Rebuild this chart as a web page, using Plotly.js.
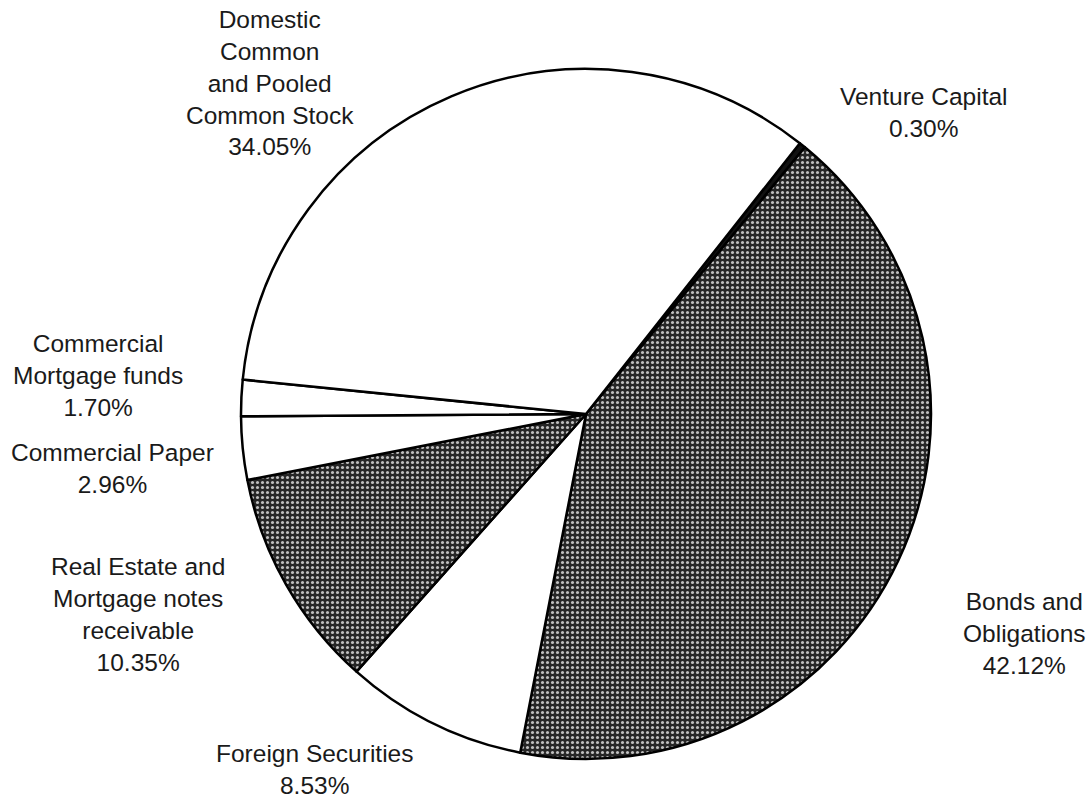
<!DOCTYPE html>
<html>
<head>
<meta charset="utf-8">
<script src="https://cdn.plot.ly/plotly-3.0.1.min.js"></script>
<style>html,body{margin:0;padding:0;background:#fff;}#chart{width:1089px;height:800px;}</style>
</head>
<body>
<div id="chart"></div>
<script>
// Data (clockwise order starting from Venture Capital)
const categories = [
  "Venture Capital",
  "Bonds and Obligations",
  "Foreign Securities",
  "Real Estate and Mortgage notes receivable",
  "Commercial Paper",
  "Commercial Mortgage funds",
  "Domestic Common and Pooled Common Stock"
];
const labelLines = [
  ["Venture Capital"],
  ["Bonds and", "Obligations"],
  ["Foreign Securities"],
  ["Real Estate and", "Mortgage notes", "receivable"],
  ["Commercial Paper"],
  ["Commercial", "Mortgage funds"],
  ["Domestic", "Common", "and Pooled", "Common Stock"]
];
const percents = [0.30, 42.12, 8.53, 10.35, 2.96, 1.70, 34.05];

// Styling (not data)
const sliceColors = ["#111111", "#262626", "#ffffff", "#262626", "#ffffff", "#ffffff", "#ffffff"];
const patternShapes = ["", ".", "", ".", "", "", ""];
const labelPos = [ // paper coords for label block centers
  [924/1089, 1 - 112/800],
  [1024/1089, 1 - 633/800],
  [314/1089, 1 - 769/800],
  [138/1089, 1 - 614/800],
  [112/1089, 1 - 468/800],
  [98/1089, 1 - 375/800],
  [270/1089, 1 - 83/800]
];

const cx = 586, cy = 414, R = 345, W = 1089, H = 800;

const trace = {
  type: "pie",
  labels: categories,
  values: percents,
  sort: false,
  direction: "clockwise",
  rotation: 38.3,
  textinfo: "none",
  hoverinfo: "label+percent",
  showlegend: false,
  domain: {
    x: [(cx - R) / W, (cx + R) / W],
    y: [(H - cy - R) / H, (H - cy + R) / H]
  },
  marker: {
    colors: sliceColors,
    line: {color: "#000000", width: 2.5},
    pattern: {
      shape: patternShapes,
      bgcolor: sliceColors,
      fgcolor: "#bfbfbf",
      size: 5,
      solidity: 0.3
    }
  }
};

const annotations = categories.map((c, i) => ({
  xref: "paper", yref: "paper",
  x: labelPos[i][0], y: labelPos[i][1],
  xanchor: "center", yanchor: "middle",
  showarrow: false,
  align: "center",
  text: labelLines[i].concat([percents[i].toFixed(2) + "%"]).join("<br>"),
  font: {family: "Liberation Sans, Arial, sans-serif", size: 24.5, color: "#1a1a1a"}
}));

const layout = {
  width: W, height: H,
  margin: {l: 0, r: 0, t: 0, b: 0},
  paper_bgcolor: "#ffffff",
  plot_bgcolor: "#ffffff",
  showlegend: false,
  annotations: annotations
};

Plotly.newPlot("chart", [trace], layout, {staticPlot: true});
</script>
</body>
</html>
